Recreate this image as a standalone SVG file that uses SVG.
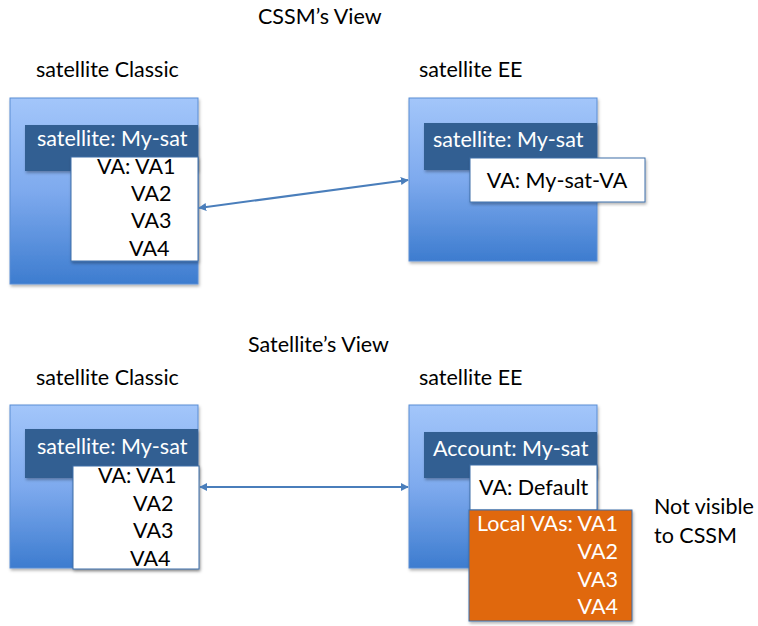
<svg xmlns="http://www.w3.org/2000/svg" width="758" height="626" viewBox="0 0 758 626">
<defs>
<linearGradient id="bg" x1="0" y1="0" x2="0" y2="1">
<stop offset="0" stop-color="#a3c6fa"/>
<stop offset="0.5" stop-color="#7eaaee"/>
<stop offset="1" stop-color="#3d7ccf"/>
</linearGradient>
<marker id="ah" viewBox="0 0 10 10" refX="9" refY="5" markerWidth="4" markerHeight="4" orient="auto-start-reverse">
<path d="M0,0 L10,5 L0,10 z" fill="#4a7ebb"/>
</marker>
<filter id="sh" x="-5%" y="-5%" width="115%" height="115%">
<feDropShadow dx="1" dy="2" stdDeviation="1.5" flood-color="#000" flood-opacity="0.3"/>
</filter>
</defs>
<style>
text{font-family:"Lato","Liberation Sans",sans-serif;font-size:21.5px;}
.lbl{fill:#000;}
.w{fill:#fff;}
.big{fill:url(#bg);stroke:#5a8ed4;stroke-width:1;filter:url(#sh);}
.hdr{fill:#325e92;filter:url(#sh);}
.wb{fill:#fff;stroke:#3e6fa8;stroke-width:1;filter:url(#sh);}
.ob{fill:#e0670f;stroke:#3e6fa8;stroke-width:1;filter:url(#sh);}
.conn{stroke:#4a7ebb;stroke-width:2;fill:none;marker-start:url(#ah);marker-end:url(#ah);}
</style>
<rect width="758" height="626" fill="#fff"/>
<g id="titles">
<text x="258" y="24" class="lbl">CSSM’s View</text>
<text x="36" y="77" class="lbl">satellite Classic</text>
<text x="419" y="77" class="lbl">satellite EE</text>
<text x="248" y="352" class="lbl">Satellite’s View</text>
<text x="36" y="385" class="lbl">satellite Classic</text>
<text x="419" y="385" class="lbl">satellite EE</text>
<text x="654" y="514" class="lbl">Not visible</text>
<text x="654" y="543" class="lbl">to CSSM</text>
</g>
<g id="cssm-classic">
<rect class="big" x="10" y="98" width="188" height="186"/>
<rect class="hdr" x="25" y="125" width="173" height="46"/>
<text x="37" y="146" class="w">satellite: My-sat</text>
<rect class="wb" x="71" y="157" width="127" height="104"/>
<text x="97" y="174" class="lbl">VA: VA1</text>
<text x="131" y="201" class="lbl">VA2</text>
<text x="131" y="228" class="lbl">VA3</text>
<text x="129" y="256" class="lbl">VA4</text>
</g>
<g id="cssm-ee">
<rect class="big" x="409" y="98" width="188" height="163"/>
<rect class="hdr" x="424" y="123" width="173" height="47"/>
<text x="433" y="147" class="w">satellite: My-sat</text>
<rect class="wb" x="470" y="158" width="175" height="44"/>
<text x="557" y="188" class="lbl" text-anchor="middle">VA: My-sat-VA</text>
</g>
<g id="sat-classic">
<rect class="big" x="10" y="405" width="188" height="163"/>
<rect class="hdr" x="25" y="429" width="173" height="49"/>
<text x="37" y="454" class="w">satellite: My-sat</text>
<rect class="wb" x="73" y="466" width="126" height="103"/>
<text x="98" y="483" class="lbl">VA: VA1</text>
<text x="133" y="511" class="lbl">VA2</text>
<text x="133" y="538" class="lbl">VA3</text>
<text x="130" y="566" class="lbl">VA4</text>
</g>
<g id="sat-ee">
<rect class="big" x="409" y="405" width="188" height="163"/>
<rect class="hdr" x="424" y="432" width="173" height="46"/>
<text x="433" y="456" class="w">Account: My-sat</text>
<rect class="wb" x="470" y="465" width="127" height="45"/>
<text x="479" y="495" class="lbl">VA: Default</text>
<rect class="ob" x="469" y="510" width="163" height="111"/>
<text x="618" y="531" class="w" text-anchor="end">Local VAs: VA1</text>
<text x="618" y="559" class="w" text-anchor="end">VA2</text>
<text x="618" y="587" class="w" text-anchor="end">VA3</text>
<text x="618" y="614" class="w" text-anchor="end">VA4</text>
</g>
<g id="connectors">
<line class="conn" x1="199" y1="208" x2="408" y2="180"/>
<line class="conn" x1="200" y1="487" x2="408" y2="487"/>
</g>
</svg>
